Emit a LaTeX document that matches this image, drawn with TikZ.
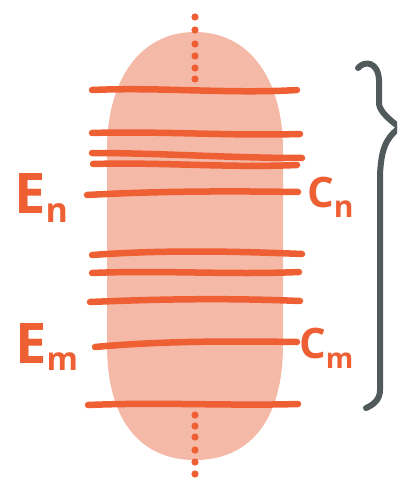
\documentclass[tikz,border=0pt]{standalone}
\usepackage{fontspec}
\setmainfont{Open Sans}
\definecolor{rust}{HTML}{EE5F34}
\definecolor{pill}{HTML}{F5B9A7}
\definecolor{slate}{HTML}{505A5A}
\begin{document}
\begin{tikzpicture}[x=1pt,y=-1pt,
  band/.style={draw=rust,line width=6.5pt,line cap=round},
  dotmark/.style={fill=rust},
  bracestroke/.style={draw=slate,line width=6pt,line cap=round,line join=round},
  lbl/.style={text=rust,font=\bfseries\fontsize{56}{56}\selectfont,inner sep=0pt,anchor=base west},
  lblc/.style={text=rust,font=\bfseries\fontsize{42}{42}\selectfont,inner sep=0pt,anchor=base west}]
\useasboundingbox (0,0) rectangle (397,481);
\clip (0,0) rectangle (397,481);
% pill
\fill[pill] (107,150) .. controls (107,80) and (140,32) .. (195,32)
  .. controls (250,32) and (283,80) .. (283,150)
  -- (283,345) .. controls (283,420) and (250,460) .. (195,460)
  .. controls (140,460) and (107,420) .. (107,345) -- cycle;
% dots
\foreach \y in {17,30,44,56,68,79} \fill[dotmark] (195,\y) circle (3.6);
\foreach \y in {415,426,437,450,462,474} \fill[dotmark] (195,\y) circle (3.6);
% bands
\draw[band] (92,90) .. controls (160,87) and (230,94) .. (297,90);
\draw[band] (92,133) .. controls (160,131) and (230,136) .. (300,134);
\draw[band] (92,153) .. controls (160,153) and (230,158) .. (302,158);
\draw[band] (93,164) .. controls (160,162) and (230,168) .. (297,165);
\draw[band] (87,195) .. controls (160,191) and (230,191) .. (298,192);
\draw[band] (92,255) .. controls (160,250) and (230,251) .. (302,254);
\draw[band] (92,273) .. controls (160,270) and (230,275) .. (299,272);
\draw[band] (90,302) .. controls (160,299) and (230,298) .. (300,301);
\draw[band] (95,347) .. controls (160,341) and (230,341) .. (297,342);
\draw[band] (88,405) .. controls (160,402) and (230,406) .. (298,404);
% brace
\draw[bracestroke] (358,68) .. controls (365,60) and (378,62) .. (379,80)
  -- (379,104) .. controls (380,112) and (390,120) .. (399,127);
\draw[bracestroke] (398,129) .. controls (386,138) and (381,150) .. (380,175)
  -- (380,390) .. controls (380,400) and (373,405) .. (366,408);
% labels
\node[lbl] (en) at (14,213) {E\raisebox{-9pt}{\fontsize{34}{34}\selectfont n}};
\node[lbl] (em) at (15,363) {E\raisebox{-7pt}{\fontsize{32}{32}\selectfont m}};
\node[lblc] (cn) at (307,207) {C\raisebox{-10pt}{\fontsize{30}{30}\selectfont n}};
\node[lblc] (cm) at (299,358) {C\raisebox{-10pt}{\fontsize{28}{28}\selectfont m}};
\end{tikzpicture}
\end{document}
